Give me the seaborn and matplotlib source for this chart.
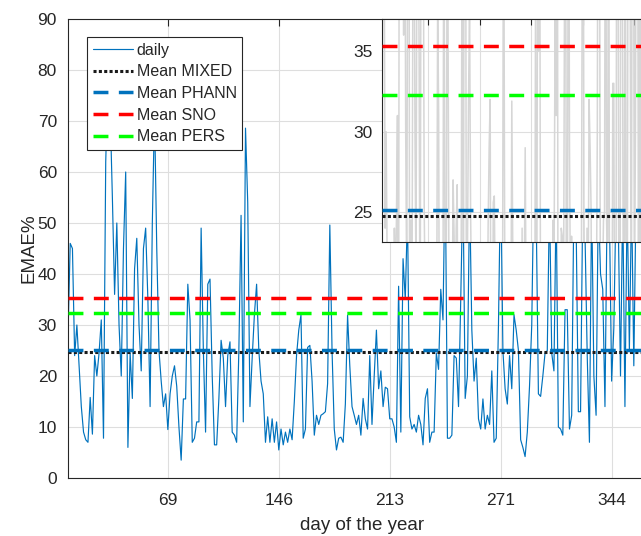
import numpy as np
import pandas as pd
import matplotlib
matplotlib.use("Agg")
import matplotlib.pyplot as plt
from matplotlib.lines import Line2D
import seaborn as sns

# ---- data ----
daily_part1 = [28, 46, 45, 24, 30, 22, 14, 9, 7.5, 7, 15.8, 8.6, 24, 20, 24.5, 31, 7.8, 62, 78, 72,
               55, 36, 50, 30, 20, 45, 60, 6, 24.5, 15.6, 41, 47, 30, 21, 45, 49, 35, 14, 50, 72,
               45, 25, 19, 14, 16.5, 9.5, 16.5, 20, 22, 18, 10]
daily_part2 = [3.5, 15.5, 15.5, 38, 31, 7, 7.8, 11, 11, 49, 25, 9, 38, 39, 20, 6.5, 6.5, 15.6, 27, 23.5,
               14, 24, 26.7, 9, 8.4, 7, 25, 51.5, 11, 68.6, 54, 14, 23.5, 32, 38, 25, 19, 16.5, 7, 12,
               7, 11.6, 7, 11, 5.5, 9.6, 6.5, 9, 7, 9.6, 7.5]
daily_part3 = [15, 24, 29, 32, 7.8, 9.6, 25.6, 26, 19, 8.4, 12.3, 10.5, 12.3, 12.6, 13, 18.5, 49.6, 25, 9.6, 5.5,
               7.8, 8, 7, 14.5, 31.9, 22, 14, 12.3, 10.5, 12.3, 8.4, 15.6, 11.6, 9.6, 24, 10.5, 20, 29, 17.5, 21,
               14, 17.8, 17.5, 11.6, 11.6, 10, 7, 37.6, 9, 43, 35]
daily_part4 = [52, 12, 9.6, 10.5, 9, 12.3, 10.5, 6.5, 15.6, 17.5, 7, 9, 9, 24.5, 21.3, 37, 31, 62, 7.8, 7.8,
               8.4, 24, 23.5, 14, 35, 58, 15.6, 20, 56, 29, 19, 23.5, 11.6, 9.6, 15.5, 9.6, 12.3, 10.5, 21, 7,
               7.8, 30, 60, 25, 17.5, 14.5, 24, 17.5, 32, 29, 25]
daily_part5 = [7.5, 6, 4.2, 9, 18, 30, 60, 52, 16.5, 16, 20, 24.5, 25, 55, 24.5, 21, 55, 10, 9.6, 8.4,
               33, 33, 9.6, 12.3, 55, 50, 13, 13, 55, 48, 24, 7, 55, 20, 12.3, 55, 40, 37, 14, 55,
               52, 19, 29.5, 55, 50, 20, 55, 14, 55, 25, 55, 22, 55]

mean_mixed = 24.75
mean_phann = 25.12
mean_sno = 35.35
mean_pers = 32.3

first_index = 5
tick_positions = [50, 100, 150, 200, 250]
tick_labels = ["69", "146", "213", "271", "344"]
main_yticks = [0, 10, 20, 30, 40, 50, 60, 70, 80, 90]
inset_yticks = [25, 30, 35]

daily = daily_part1 + daily_part2 + daily_part3 + daily_part4 + daily_part5
df = pd.DataFrame({"sample": np.arange(first_index, first_index + len(daily)), "EMAE": daily})

# ---- style ----
sns.set_theme(style="white")
plt.rcParams["font.family"] = ["Liberation Sans", "DejaVu Sans"]

W, H = 641, 536
fig = plt.figure(figsize=(W / 100, H / 100), dpi=100)

TXT = "#262626"
GRID = "#dedede"
BLUE = "#0072BD"

xlim = (5, 270)
ax = fig.add_axes([68 / W, (H - 478) / H, 588 / W, 459 / H])
ins = fig.add_axes([382 / W, (H - 242) / H, 273 / W, 223 / H])

mean_specs = [
    (mean_mixed, "k", (0, (1.0, 0.75)), 2.2, "Mean MIXED"),
    (mean_phann, BLUE, (0, (4.3, 3.0)), 2.5, "Mean PHANN"),
    (mean_sno, "#FF0000", (0, (4.3, 3.0)), 2.5, "Mean SNO"),
    (mean_pers, "#00FF00", (0, (4.3, 3.0)), 2.5, "Mean PERS"),
]

# main axes
sns.lineplot(data=df, x="sample", y="EMAE", ax=ax, color=BLUE, linewidth=0.85, zorder=2, legend=False)
for val, col, ls, lw, lab in mean_specs:
    ax.axhline(val, color=col, linestyle=ls, linewidth=lw, zorder=3)

ax.set_xlim(*xlim)
ax.set_ylim(0, 90)
ax.set_xticks(tick_positions)
ax.set_xticklabels(tick_labels)
ax.set_yticks(main_yticks)
ax.grid(True, color=GRID, linewidth=0.8)
ax.set_axisbelow(True)
ax.tick_params(direction="in", length=5, width=0.8, top=True, right=True, colors=TXT,
               labelsize=12.5, pad=8)
ax.tick_params(axis="x", pad=11)
for s in ax.spines.values():
    s.set_color(TXT)
    s.set_linewidth(0.8)
ax.set_xlabel("day of the year", fontsize=13.5, color=TXT, labelpad=6)
ax.set_ylabel("EMAE%", fontsize=13.5, color=TXT, labelpad=0)

handles = [Line2D([], [], color=BLUE, linewidth=0.85, label="daily")]
for val, col, ls, lw, lab in mean_specs:
    handles.append(Line2D([], [], color=col, linestyle=ls, linewidth=lw, label=lab))
leg = ax.legend(handles=handles, loc="upper left", bbox_to_anchor=(0.0323, 0.9608),
                borderaxespad=0, fontsize=11.5, frameon=True, fancybox=False, framealpha=1,
                edgecolor=TXT, handlelength=2.5, handletextpad=0.25, labelspacing=0.42,
                borderpad=0.35)
leg.get_frame().set_linewidth(0.8)
leg.set_zorder(10)
for t in leg.get_texts():
    t.set_color(TXT)

# inset axes
ins.set_facecolor("white")
sns.lineplot(data=df, x="sample", y="EMAE", ax=ins, color="#d6d6d6", linewidth=1.1, zorder=2, legend=False)
for val, col, ls, lw, lab in mean_specs:
    ins.axhline(val, color=col, linestyle=ls, linewidth=lw, zorder=3)
ins.set_xlim(*xlim)
ins.set_ylim(23.14, 37.0)
ins.set_xticks(tick_positions)
ins.set_xticklabels([])
ins.set_yticks(inset_yticks)
ins.grid(True, color=GRID, linewidth=0.8)
ins.set_axisbelow(True)
ins.tick_params(direction="in", length=4, width=0.8, top=True, right=True, colors=TXT,
                labelsize=12.5, pad=7)
for s in ins.spines.values():
    s.set_color(TXT)
    s.set_linewidth(0.8)
ins.set_xlabel("")
ins.set_ylabel("")

fig.savefig("out.png", dpi=100)
